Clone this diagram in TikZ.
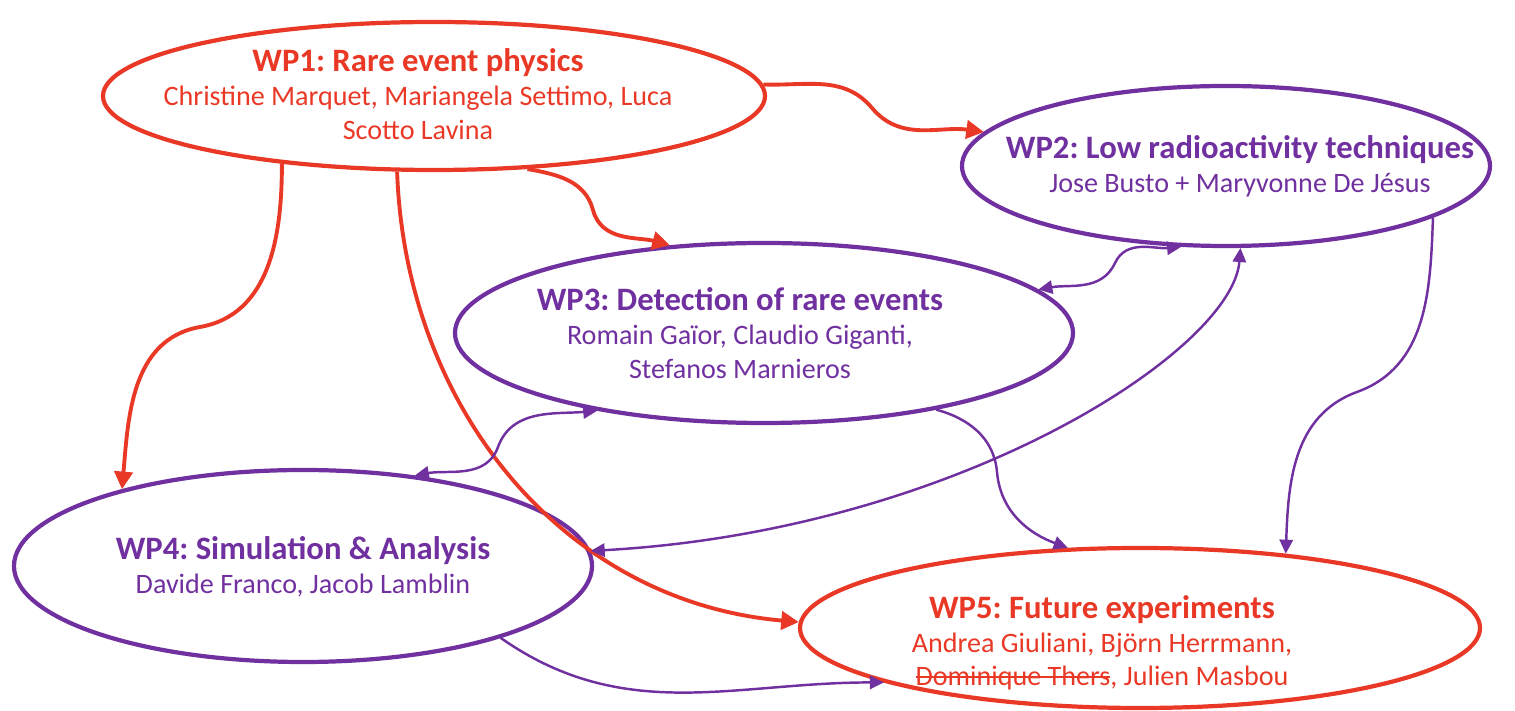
\documentclass[tikz,border=0pt]{standalone}
\usepackage{fontspec}
\setmainfont{Carlito}
\frenchspacing
\usetikzlibrary{shapes.geometric, arrows.meta}
\definecolor{wpred}{RGB}{233,57,38}
\definecolor{wppurple}{RGB}{112,48,160}
\newcommand{\wptitle}[1]{{\fontsize{9.3}{9.6}\selectfont\bfseries #1}}
\newsavebox{\strikebox}
\newcommand{\strikeout}[1]{\sbox{\strikebox}{#1}\rlap{\rule[0.28em]{\wd\strikebox}{0.45pt}}\usebox{\strikebox}}
\tikzset{
    wp/.style={
        draw, ellipse,
        line width = 1.2pt,
        inner sep = 0pt
    },
    wplabel/.style = {align = center, inner sep = 0pt, font = \fontsize{8}{9.6}\selectfont},
    redline/.style = {-{Triangle[length=5pt, width=5.2pt]}, draw = wpred, line width = 1.1pt},
    purpleline/.style = {-{Triangle[length=4pt, width=3.8pt]}, draw = wppurple, line width = 0.7pt},
    purpleboth/.style = {purpleline, {Triangle[length=4pt, width=3.8pt]}-{Triangle[length=4pt, width=3.8pt]}}
}
\begin{document}
\begin{tikzpicture}

    \useasboundingbox (0,0) rectangle (15.15,-7.11);

    % WP1
    \node[wp, draw = wpred, minimum width = 6.62cm, minimum height = 1.48cm] (wp1) at (4.34,-0.96) {};
    \node[wplabel, text = wpred] (wp1txt) at (4.18,-0.94)
        {\wptitle{WP1: Rare event physics}\\Christine Marquet, Mariangela Settimo, Luca\\Scotto Lavina};

    % WP2
    \node[wp, draw = wppurple, minimum width = 5.28cm, minimum height = 1.60cm] (wp2) at (12.26,-1.66) {};
    \node[wplabel, text = wppurple] (wp2txt) at (12.40,-1.66)
        {\wptitle{WP2: Low radioactivity techniques}\\Jose Busto + Maryvonne De Jésus};

    % WP3
    \node[wp, draw = wppurple, minimum width = 6.18cm, minimum height = 1.80cm] (wp3) at (7.64,-3.33) {};
    \node[wplabel, text = wppurple] (wp3txt) at (7.40,-3.33)
        {\wptitle{WP3: Detection of rare events}\\Romain Gaïor, Claudio Giganti,\\Stefanos Marnieros};

    % WP4
    \node[wp, draw = wppurple, minimum width = 5.78cm, minimum height = 1.92cm] (wp4) at (3.03,-5.66) {};
    \node[wplabel, text = wppurple] (wp4txt) at (3.03,-5.67)
        {\wptitle{WP4: Simulation \& Analysis}\\Davide Franco, Jacob Lamblin};

    % WP5
    \node[wp, draw = wpred, minimum width = 6.80cm, minimum height = 1.60cm] (wp5) at (11.40,-6.28) {};
    \node[wplabel, text = wpred] (wp5txt) at (11.02,-6.43)
        {\wptitle{WP5: Future experiments}\\Andrea Giuliani, Björn Herrmann,\\\strikeout{Dominique Thers}, Julien Masbou};

    % Bends of the connectors
    \coordinate (bend12) at (8.72,-1.08);
    \coordinate (bend13) at (5.93,-2.10);
    \coordinate (bend14) at (2.00,-3.27);
    \coordinate (bend23) at (11.15,-2.63);
    \coordinate (bend34) at (4.98,-4.47);
    \coordinate (bend35) at (9.97,-4.72);
    \coordinate (bend25) at (13.57,-3.92);

    % Lines from WP1
    \draw[redline] (wp1.2) to[out=-2, in=130] (bend12) to[out=-50, in=172] (wp2.172);
    \draw[redline] (wp1.-38) to[out=-10, in=105] (bend13) to[out=-75, in=165] (wp3.137);
    \draw[redline] (wp1.-156) to[out=-90, in=10] (bend14) to[out=-170, in=85] (wp4.157);
    \draw[redline] (wp1.-116) to[out=-88, in=175] (wp5.179);

    % Purple lines
    \draw[purpleboth] (wp3.9) to[out=10, in=-115] (bend23) to[out=65, in=185] (wp2.-119);
    \draw[purpleboth] (wp4.39) to[out=10, in=-110] (bend34) to[out=70, in=185] (wp3.-155);
    \draw[purpleboth] (wp2.-80) .. controls +(-0.08,-1.03) and +(3.65,0.2) .. (wp4.3);
    \draw[purpleline] (wp3.-24) to[out=-15, in=95] (bend35) to[out=-85, in=160] (wp5.132);
    \draw[purpleline] (wp2.-14) to[out=-92, in=20] (bend25) to[out=-160, in=88] (wp5.27);
    \draw[purpleline] (wp4.-20) to[out=-35, in=180] (wp5.-168);

\end{tikzpicture}
\end{document}
